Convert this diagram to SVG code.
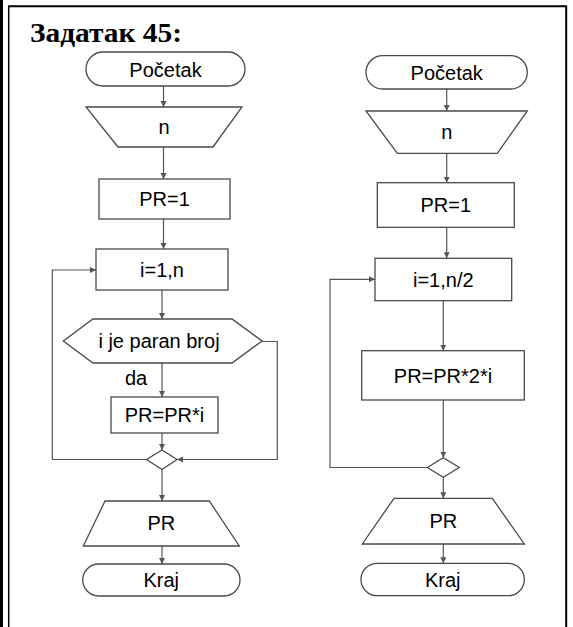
<svg xmlns="http://www.w3.org/2000/svg" width="573" height="627" viewBox="0 0 573 627">
<style>
.frame{stroke:#000;fill:none}
.shape{fill:#fff;stroke:#4a4a4a;stroke-width:1.3}
.lbl{font-family:"Liberation Sans",Arial,sans-serif;font-size:20px;fill:#000;text-anchor:middle}
.title{font-family:"Liberation Serif","Times New Roman",serif;font-size:27px;font-weight:bold;fill:#000}
.conn{fill:none;stroke:#555;stroke-width:1.2}
</style>
<defs>
<marker id="ah" markerUnits="userSpaceOnUse" markerWidth="8" markerHeight="8" refX="6" refY="3" orient="auto">
<path d="M0,0 L6,3 L0,6 Z" fill="#555"/>
</marker>
</defs>
<rect width="573" height="627" fill="#fff"/>
<g id="frame">
<line class="frame" x1="1.5" y1="0" x2="1.5" y2="627" stroke-width="3"/>
<line class="frame" x1="8.7" y1="6" x2="8.7" y2="627" stroke-width="1.5"/>
<line class="frame" x1="8" y1="6.3" x2="567" y2="6.3" stroke-width="2"/>
<line class="frame" x1="566.2" y1="6" x2="566.2" y2="627" stroke-width="2"/>
</g>
<text class="title" x="30" y="42" textLength="152" lengthAdjust="spacingAndGlyphs">Задатак 45:</text>

<g id="connectors">
<line class="conn" x1="163.5" y1="86" x2="163.5" y2="107" marker-end="url(#ah)"/>
<line class="conn" x1="163.5" y1="147" x2="163.5" y2="179" marker-end="url(#ah)"/>
<line class="conn" x1="163.5" y1="219" x2="163.5" y2="249" marker-end="url(#ah)"/>
<line class="conn" x1="162" y1="290" x2="162" y2="319" marker-end="url(#ah)"/>
<line class="conn" x1="162" y1="363" x2="162" y2="397" marker-end="url(#ah)"/>
<line class="conn" x1="162" y1="433" x2="162" y2="450" marker-end="url(#ah)"/>
<polyline class="conn" points="147,459.5 52.3,459.5 52.3,270 96,270" marker-end="url(#ah)"/>
<polyline class="conn" points="262,341.5 277.3,341.5 277.3,459.5 177,459.5" marker-end="url(#ah)"/>
<line class="conn" x1="162" y1="469.5" x2="162" y2="501" marker-end="url(#ah)"/>
<line class="conn" x1="162" y1="546" x2="162" y2="564" marker-end="url(#ah)"/>
<line class="conn" x1="446.7" y1="89" x2="446.7" y2="111" marker-end="url(#ah)"/>
<line class="conn" x1="446.7" y1="153" x2="446.7" y2="182.7" marker-end="url(#ah)"/>
<line class="conn" x1="446.7" y1="227.3" x2="446.7" y2="258.3" marker-end="url(#ah)"/>
<line class="conn" x1="443.3" y1="300.7" x2="443.3" y2="350.7" marker-end="url(#ah)"/>
<line class="conn" x1="443.3" y1="400" x2="443.3" y2="457.7" marker-end="url(#ah)"/>
<polyline class="conn" points="427.3,467.5 330,467.5 330,279.3 375,279.3" marker-end="url(#ah)"/>
<line class="conn" x1="443.3" y1="477.3" x2="443.3" y2="498.3" marker-end="url(#ah)"/>
<line class="conn" x1="443.3" y1="544" x2="443.3" y2="563.3" marker-end="url(#ah)"/>
</g>

<g id="L_start">
<rect class="shape" x="86" y="52" width="159" height="34" rx="17"/>
<text class="lbl" x="165.5" y="77">Početak</text>
</g>
<g id="L_input">
<polygon class="shape" points="86,107 242,107 213,147 118,147"/>
<text class="lbl" x="164" y="134">n</text>
</g>
<g id="L_pr1">
<rect class="shape" x="99" y="179" width="131" height="40"/>
<text class="lbl" x="164.5" y="206">PR=1</text>
</g>
<g id="L_loop">
<rect class="shape" x="96" y="249" width="132" height="41"/>
<text class="lbl" x="162" y="276.5">i=1,n</text>
</g>
<g id="L_cond">
<polygon class="shape" points="63.3,341 93,319 232,319 262,341 232,363 93,363"/>
<text class="lbl" x="159" y="348">i je paran broj</text>
</g>
<text class="lbl" x="136" y="385">da</text>
<g id="L_mul">
<rect class="shape" x="111" y="397" width="107" height="36"/>
<text class="lbl" x="164.5" y="422">PR=PR*i</text>
</g>
<g id="L_join">
<polygon class="shape" points="146.5,459.5 162,450 177,459.5 162,469.5"/>
</g>
<g id="L_output">
<polygon class="shape" points="105,501 209.3,501 239.3,546 83.3,546"/>
<text class="lbl" x="161.3" y="530">PR</text>
</g>
<g id="L_end">
<rect class="shape" x="82.7" y="564" width="157.3" height="32" rx="16"/>
<text class="lbl" x="161.3" y="587">Kraj</text>
</g>

<g id="R_start">
<rect class="shape" x="366" y="55.7" width="161.3" height="33.3" rx="16.6"/>
<text class="lbl" x="446.7" y="80">Početak</text>
</g>
<g id="R_input">
<polygon class="shape" points="366,111 527.3,111 497.3,153.3 397.3,153.3"/>
<text class="lbl" x="446.7" y="139">n</text>
</g>
<g id="R_pr1">
<rect class="shape" x="377.3" y="182.7" width="137" height="44.6"/>
<text class="lbl" x="445.8" y="212">PR=1</text>
</g>
<g id="R_loop">
<rect class="shape" x="375" y="258.3" width="136.7" height="42.4"/>
<text class="lbl" x="443.3" y="286.5">i=1,n/2</text>
</g>
<g id="R_mul">
<rect class="shape" x="361.7" y="350.7" width="162.6" height="49.3"/>
<text class="lbl" x="443" y="382.5">PR=PR*2*i</text>
</g>
<g id="R_join">
<polygon class="shape" points="427.3,467.5 443.3,457.7 459.3,467.5 443.3,477.3"/>
</g>
<g id="R_output">
<polygon class="shape" points="394,498.3 492.3,498.3 524.3,544 362.3,544"/>
<text class="lbl" x="443.3" y="528">PR</text>
</g>
<g id="R_end">
<rect class="shape" x="361" y="563.3" width="163.3" height="32.4" rx="16.2"/>
<text class="lbl" x="442.7" y="587">Kraj</text>
</g>
</svg>
